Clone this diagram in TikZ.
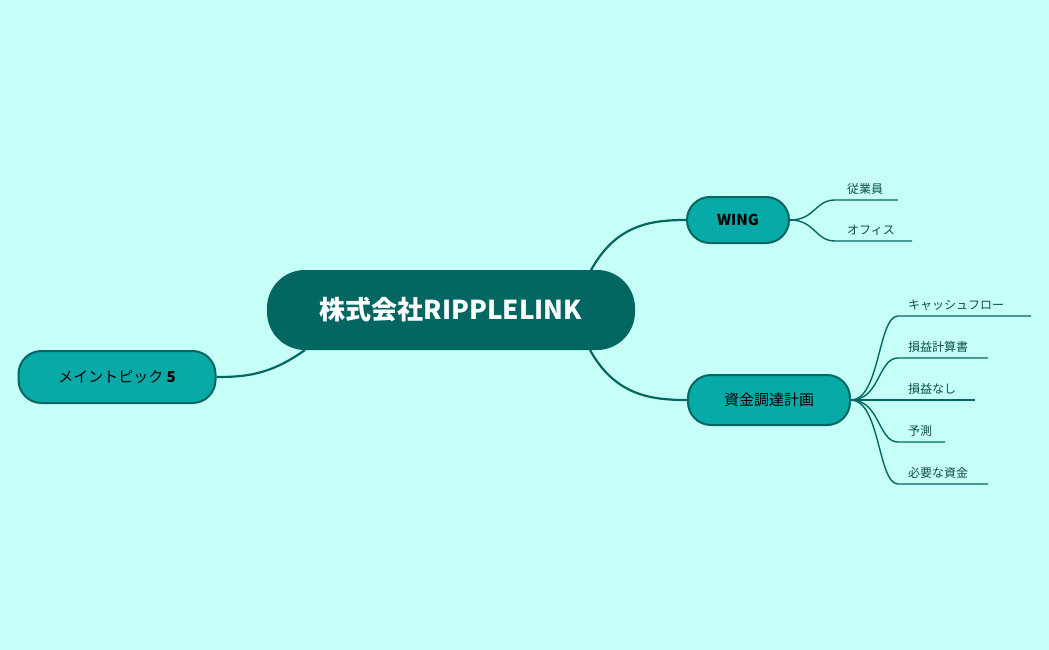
\documentclass[tikz,border=0pt]{standalone}
\usepackage{fontspec}
\setmainfont{Noto Sans CJK JP}
\begin{document}
\begin{tikzpicture}[x=1pt,y=-1pt,
  edge/.style={draw=dk,line width=2.2pt},
  sub/.style={draw=dk,line width=1.4pt},
  topic/.style={rounded corners=23pt,fill=md,draw=dk,line width=2pt,text=black,font=\fontsize{15}{18}\selectfont},
  lab/.style={anchor=south west,inner sep=2pt,text=tx,font=\fontsize{12}{14}\selectfont}]
\definecolor{bg}{HTML}{C6FFF8}
\definecolor{dk}{HTML}{036661}
\definecolor{md}{HTML}{07AAA6}
\definecolor{tx}{HTML}{0B4F4C}
\fill[bg] (0,0) rectangle (1049,650);
\useasboundingbox (0,0) rectangle (1049,650);
\node[fill=dk,text=white,rounded corners=38pt,minimum width=368pt,minimum height=80pt,font=\bfseries\fontsize{26}{30}\selectfont] (c) at (451,310) {株式会社RIPPLELINK};
\node[topic,minimum width=102pt,minimum height=46pt,font=\bfseries\fontsize{15}{18}\selectfont] (w) at (738,220) {WING};
\node[topic,minimum width=162pt,minimum height=50pt] (f) at (769,400) {資金調達計画};
\node[topic,minimum width=197pt,minimum height=52pt] (m) at (117,377) {メイントピック \textbf{5}};
\coordinate (c1) at (590,272);\coordinate (c2) at (590,350);\coordinate (c3) at (305,350);
\draw[edge] (c1) .. controls (615,225) and (650,220) .. (w.west);
\draw[edge] (c2) .. controls (615,395) and (650,400) .. (f.west);
\draw[edge] (c3) .. controls (270,375) and (245,377) .. (m.east);
% WING subs
\coordinate (a1) at (835,200);\coordinate (a1e) at (898,200);
\coordinate (a2) at (835,241);\coordinate (a2e) at (912,241);
\draw[sub] (w.east) .. controls (815,220) and (815,200) .. (a1) -- (a1e);
\draw[sub] (w.east) .. controls (815,220) and (815,241) .. (a2) -- (a2e);
\node[lab] at (845,197) {従業員};
\node[lab] at (845,238) {オフィス};
% finance subs
\foreach \y/\e/\t [count=\i] in {316/1031/キャッシュフロー,358/988/損益計算書,400/975/損益なし,442/945/予測,484/988/必要な資金}{
  \coordinate (b\i) at (898,\y);\coordinate (be\i) at (\e,\y);
  \draw[sub] (f.east) .. controls (880,400) and (878,\y) .. (b\i) -- (be\i);
  \node[lab] at (906,\y-3) {\t};
}
\end{tikzpicture}
\end{document}
